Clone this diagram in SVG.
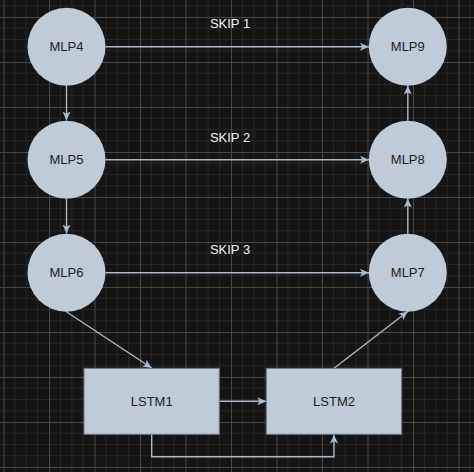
<svg xmlns="http://www.w3.org/2000/svg" width="474" height="472" viewBox="0 0 474 472">
  <defs>
    <pattern id="grid" x="3.5" y="17" width="45.5" height="45" patternUnits="userSpaceOnUse">
      <path d="M11.375,0V45M22.75,0V45M34.125,0V45M0,11.25H45.5M0,22.5H45.5M0,33.75H45.5" stroke="#262626" stroke-width="1" fill="none"/>
      <path d="M0.5,0V45M0,0.5H45.5" stroke="#474747" stroke-width="1" fill="none"/>
    </pattern>
    <marker id="arrow" viewBox="0 0 10 10" refX="10" refY="5" markerWidth="9" markerHeight="9" markerUnits="userSpaceOnUse" orient="auto">
      <path d="M0,0.5 L10,5 L0,9.5 L2.5,5 Z" fill="#a9bacb"/>
    </marker>
    <style>
      .circ { fill: #bfcbd7; stroke: none; }
      .box { fill: #bfcbd7; stroke: #6b7480; stroke-width: 1; }
      .lbl { font-family: "Liberation Sans", Arial, sans-serif; font-size: 13px; fill: #1c1c1c; text-anchor: middle; }
      .skip { font-family: "Liberation Sans", Arial, sans-serif; font-size: 13px; fill: #f2f2f2; text-anchor: middle; }
      .edge { fill: none; stroke: #a9bacb; stroke-width: 1.4; marker-end: url(#arrow); }
    </style>
  </defs>
  <rect x="0" y="0" width="474" height="472" fill="#141414"/>
  <rect x="0" y="0" width="474" height="472" fill="url(#grid)"/>

  <g id="connectors">
    <path class="edge" d="M66.5,85.5 L66.5,120.5"/>
    <path class="edge" d="M66.5,198.5 L66.5,233.5"/>
    <path class="edge" d="M105.5,46.7 L369,46.7"/>
    <path class="edge" d="M105.5,159.7 L369,159.7"/>
    <path class="edge" d="M105.5,272.7 L369,272.7"/>
    <path class="edge" d="M407.8,120.8 L407.8,85.5"/>
    <path class="edge" d="M407.8,233.8 L407.8,198.5"/>
    <path class="edge" d="M66,311.5 L151.7,368"/>
    <path class="edge" d="M219.3,401.3 L266.3,401.3"/>
    <path class="edge" d="M151.7,434.3 V456.7 H334 V434.5"/>
    <path class="edge" d="M334,368.3 L407.8,311.5"/>
  </g>

  <g id="skip-labels">
    <text class="skip" x="230" y="28.3">SKIP 1</text>
    <text class="skip" x="230" y="141.7">SKIP 2</text>
    <text class="skip" x="230" y="254">SKIP 3</text>
  </g>

  <g id="MLP4"><circle class="circ" cx="66.5" cy="46.7" r="39"/><text class="lbl" x="66.5" y="51.3">MLP4</text></g>
  <g id="MLP5"><circle class="circ" cx="66.5" cy="159.7" r="39"/><text class="lbl" x="66.5" y="164.3">MLP5</text></g>
  <g id="MLP6"><circle class="circ" cx="66.5" cy="272.7" r="39"/><text class="lbl" x="66.5" y="277.3">MLP6</text></g>
  <g id="MLP9"><circle class="circ" cx="407.8" cy="46.7" r="39"/><text class="lbl" x="407.8" y="51.3">MLP9</text></g>
  <g id="MLP8"><circle class="circ" cx="407.8" cy="159.7" r="39"/><text class="lbl" x="407.8" y="164.3">MLP8</text></g>
  <g id="MLP7"><circle class="circ" cx="407.8" cy="272.7" r="39"/><text class="lbl" x="407.8" y="277.3">MLP7</text></g>
  <g id="LSTM1"><rect class="box" x="84" y="368.3" width="135.3" height="66"/><text class="lbl" x="151.7" y="405.9">LSTM1</text></g>
  <g id="LSTM2"><rect class="box" x="266.3" y="368.3" width="135.4" height="66"/><text class="lbl" x="334" y="405.9">LSTM2</text></g>
</svg>
